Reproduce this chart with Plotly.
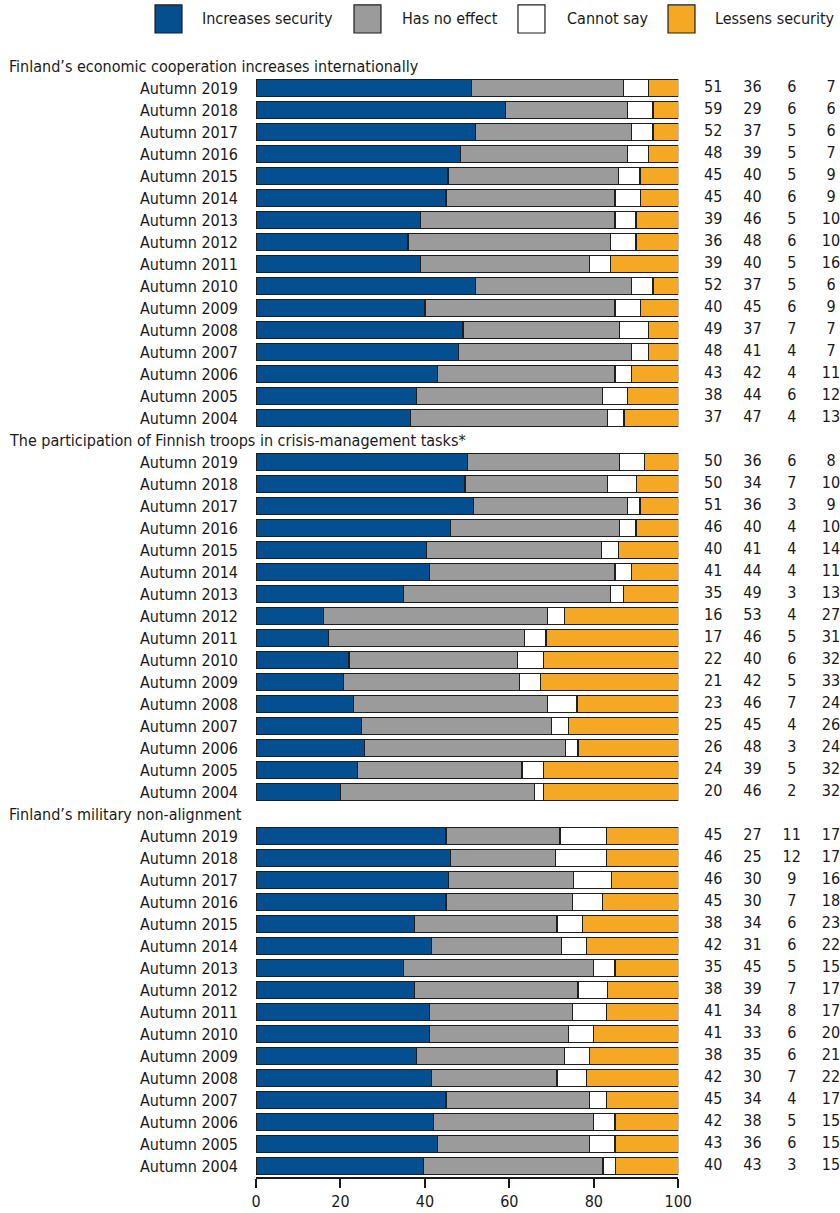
import plotly.graph_objects as go

years = ["2019", "2018", "2017", "2016", "2015", "2014", "2013", "2012",
         "2011", "2010", "2009", "2008", "2007", "2006", "2005", "2004"]

sections = ["Finland’s economic cooperation increases internationally",
            "The participation of Finnish troops in crisis-management tasks*",
            "Finland’s military non-alignment"]

series_names = ["Increases security", "Has no effect", "Cannot say", "Lessens security"]

# economic cooperation
econ_increase = [51, 59, 52, 48, 45, 45, 39, 36, 39, 52, 40, 49, 48, 43, 38, 37]
econ_noeffect = [36, 29, 37, 39, 40, 40, 46, 48, 40, 37, 45, 37, 41, 42, 44, 47]
econ_cannot = [6, 6, 5, 5, 5, 6, 5, 6, 5, 5, 6, 7, 4, 4, 6, 4]
econ_lessens = [7, 6, 6, 7, 9, 9, 10, 10, 16, 6, 9, 7, 7, 11, 12, 13]

# crisis management
troops_increase = [50, 50, 51, 46, 40, 41, 35, 16, 17, 22, 21, 23, 25, 26, 24, 20]
troops_noeffect = [36, 34, 36, 40, 41, 44, 49, 53, 46, 40, 42, 46, 45, 48, 39, 46]
troops_cannot = [6, 7, 3, 4, 4, 4, 3, 4, 5, 6, 5, 7, 4, 3, 5, 2]
troops_lessens = [8, 10, 9, 10, 14, 11, 13, 27, 31, 32, 33, 24, 26, 24, 32, 32]

# military non-alignment
nonalign_increase = [45, 46, 46, 45, 38, 42, 35, 38, 41, 41, 38, 42, 45, 42, 43, 40]
nonalign_noeffect = [27, 25, 30, 30, 34, 31, 45, 39, 34, 33, 35, 30, 34, 38, 36, 43]
nonalign_cannot = [11, 12, 9, 7, 6, 6, 5, 7, 8, 6, 6, 7, 4, 5, 6, 3]
nonalign_lessens = [17, 17, 16, 18, 23, 22, 15, 17, 17, 20, 21, 22, 17, 15, 15, 15]

colors = ["#044f90", "#9b9b9b", "#ffffff", "#f5a823"]
outline = "#1e1e1e"
FONT = "DejaVu Sans Condensed, Liberation Sans Narrow, Liberation Sans, sans-serif"
FS = 16

blocks = [
    [econ_increase, econ_noeffect, econ_cannot, econ_lessens],
    [troops_increase, troops_noeffect, troops_cannot, troops_lessens],
    [nonalign_increase, nonalign_noeffect, nonalign_cannot, nonalign_lessens],
]

# category list: a header slot then 16 rows per section
cats, tickvals, ticktext, header_keys = [], [], [], []
cols = [[], [], [], []]
for s, block in enumerate(blocks):
    hk = f"h{s}"
    cats.append(hk)
    header_keys.append(hk)
    for c in range(4):
        cols[c].append(None)
    for i, yr in enumerate(years):
        key = f"s{s}-{yr}"
        cats.append(key)
        tickvals.append(key)
        ticktext.append("Autumn " + yr)
        for c in range(4):
            cols[c].append(block[c][i])

fig = go.Figure()
for c in range(4):
    fig.add_trace(go.Bar(
        x=cols[c], y=cats, orientation="h", name=series_names[c],
        marker=dict(color=colors[c], line=dict(color=outline, width=1.2)),
        showlegend=False, hoverinfo="skip",
    ))

# value columns on the right, on their own x axis
for c in range(4):
    fig.add_trace(go.Scatter(
        x=[c + 1] * len(cats), y=cats, mode="text", xaxis="x2",
        text=["" if v is None else str(v) for v in cols[c]],
        textposition="middle center", cliponaxis=False,
        textfont=dict(family=FONT, size=FS, color="#1a1a1a"),
        showlegend=False, hoverinfo="skip",
    ))

for hk, title in zip(header_keys, sections):
    fig.add_annotation(x=-0.4264, xref="paper", y=hk, yref="y", text=title,
                       showarrow=False, xanchor="left", yanchor="middle",
                       font=dict(family=FONT, size=FS, color="#1a1a1a"))

# legend drawn by hand (big squares)
box_x = [-0.1729, 0.1678, 0.4486, 0.7055]
txt_x = [-0.0959, 0.2466, 0.5291, 0.7825]
for c in range(4):
    fig.add_shape(type="rect", xref="paper", yref="paper",
                  x0=box_x[c], x1=box_x[c] + 0.0462, y0=1.0196, y1=1.0446,
                  fillcolor=colors[c], line=dict(color=outline, width=1.2))
    fig.add_annotation(x=txt_x[c], xref="paper", y=1.0321, yref="paper",
                       text=series_names[c], showarrow=False, xanchor="left",
                       yanchor="middle",
                       font=dict(family=FONT, size=FS, color="#1a1a1a"))

fig.update_layout(
    width=840, height=1213,
    margin=dict(l=256, r=0, t=55, b=36),
    barmode="stack", barnorm="percent", bargap=0.21,
    plot_bgcolor="white", paper_bgcolor="white",
    font=dict(family=FONT, size=FS, color="#1a1a1a"),
    hovermode=False,
    xaxis=dict(domain=[0, 0.7231], range=[0, 100],
               tickvals=[0, 20, 40, 60, 80, 100],
               showgrid=False, zeroline=False, showline=True,
               linecolor="#1a1a1a", linewidth=2, ticks="outside",
               ticklen=9, tickwidth=1.5, tickcolor="#1a1a1a",
               automargin=False),
    xaxis2=dict(domain=[0.7231, 1], range=[0.11, 4.23], anchor="y",
                visible=False, fixedrange=True),
    yaxis=dict(type="category", categoryorder="array", categoryarray=cats,
               range=[len(cats) - 0.5, -0.5], autorange=False,
               tickmode="array", tickvals=tickvals,
               ticktext=ticktext, showgrid=False, zeroline=False,
               showline=False, ticks="", ticklabelstandoff=17,
               automargin=False),
)

# drop the page's default body margin so the 840x1213 figure fills the window
fig.write_html("out.html", config={"displayModeBar": False},
               post_script="document.body.style.margin='0';"
                           "document.documentElement.style.overflow='hidden';")
